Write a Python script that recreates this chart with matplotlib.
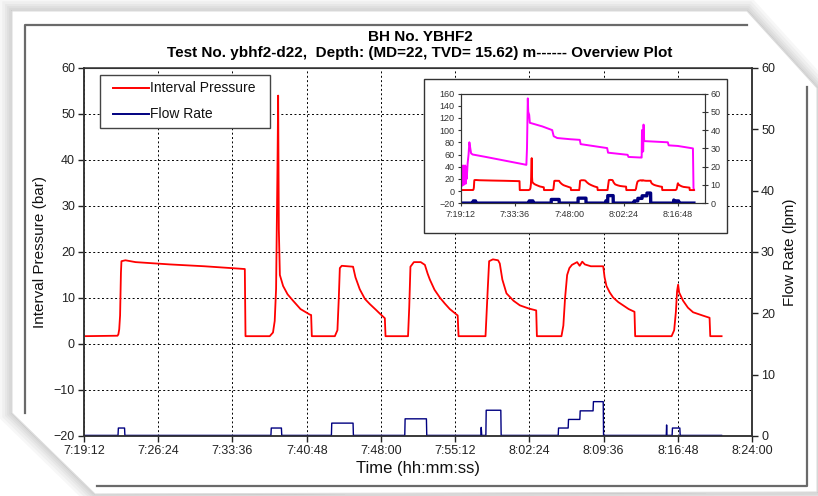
import matplotlib
matplotlib.use("Agg")
import matplotlib.pyplot as plt
import matplotlib.patheffects as pe
from matplotlib.patches import Polygon, Rectangle
from matplotlib.lines import Line2D
from matplotlib.ticker import FuncFormatter, MultipleLocator

plt.rcParams["font.family"] = ["Liberation Sans", "DejaVu Sans"]

START = 7 * 3600 + 19 * 60 + 12   # 7:19:12, all times below are seconds after this

# ── Interval pressure (bar) ──────────────────────────────────────────────────
p_time = [0, 195, 200, 205, 210, 215, 218, 241, 300, 500, 700, 936, 940,
          1081, 1100, 1110, 1118, 1122, 1126, 1130, 1134, 1140, 1159, 1185, 1217, 1260, 1314, 1322, 1326,
          1460, 1475, 1483, 1489, 1500, 1566, 1580, 1605, 1635, 1663, 1700, 1722, 1751, 1755,
          1886, 1893, 1900, 1920, 1960, 1984, 2000, 2013, 2040, 2071, 2100, 2129, 2175, 2180,
          2337, 2350, 2358, 2380, 2410, 2420, 2435, 2459, 2500, 2537, 2590, 2632, 2636,
          2779, 2790, 2800, 2812, 2825, 2840, 2870, 2885, 2900, 2915, 2950, 3022, 3030, 3041, 3060,
          3080, 3110, 3138, 3170, 3204, 3208,
          3420, 3435, 3445, 3452, 3458, 3464, 3487, 3515, 3545, 3600, 3641, 3645, 3711]
p_bar = [1.7, 1.8, 2.1, 3.2, 6.2, 15.5, 18.0, 18.2, 17.8, 17.3, 16.9, 16.3, 1.7,
         1.7, 2.5, 5.0, 12.0, 25.0, 38.0, 54.0, 25.0, 15.0, 12.6, 10.8, 9.4, 7.6, 6.4, 6.3, 1.7,
         1.7, 3.0, 10.0, 16.5, 17.0, 16.8, 14.5, 11.9, 9.8, 8.7, 7.4, 6.6, 5.6, 1.7,
         1.7, 8.0, 16.8, 17.8, 17.8, 17.2, 15.3, 14.0, 11.8, 10.1, 8.8, 7.6, 6.2, 1.7,
         1.7, 12.0, 18.0, 18.4, 18.2, 17.5, 14.0, 11.0, 9.4, 8.4, 7.7, 7.3, 1.7,
         1.7, 4.0, 10.0, 15.0, 16.5, 17.2, 17.8, 17.0, 17.9, 17.3, 16.9, 16.9, 14.5, 12.6, 11.2,
         10.1, 9.1, 8.4, 7.6, 7.0, 1.7,
         1.7, 3.0, 7.0, 11.5, 12.9, 11.2, 9.4, 7.9, 6.9, 6.2, 5.7, 1.7, 1.7]

# ── Flow rate (lpm) ──────────────────────────────────────────────────────────
q_time = [0, 198, 200, 236, 238, 1088, 1090, 1149, 1151, 1440, 1442, 1566, 1568,
          1867, 1869, 1993, 1995, 2310, 2312, 2315, 2339, 2341, 2426, 2428,
          2760, 2762, 2818, 2820, 2886, 2888, 2963, 2965, 3022, 3024,
          3389, 3391, 3393, 3423, 3425, 3468, 3470, 3711]
q_lpm = [0.1, 0.1, 1.3, 1.3, 0.1, 0.1, 1.3, 1.3, 0.1, 0.1, 2.1, 2.1, 0.1,
         0.1, 2.8, 2.8, 0.1, 0.1, 1.4, 0.1, 0.1, 4.2, 4.2, 0.1,
         0.1, 1.3, 1.3, 2.7, 2.7, 4.1, 4.1, 5.6, 5.6, 0.1,
         0.1, 1.8, 0.1, 0.1, 1.3, 1.3, 0.1, 0.1]

# ── Packer pressure trace shown only in the inset (bar) ──────────────────────
m_time = [0, 8, 15, 22, 30, 38, 46, 54, 62, 70, 78, 86, 96, 110, 125, 138, 150, 165, 190,
          400, 700, 1000, 1045, 1055, 1062, 1068, 1075, 1090, 1100, 1300, 1456, 1480, 1536,
          1749, 1895, 1909, 2331, 2345, 2656, 2670, 2869, 2880, 2885, 2892, 2896, 2905,
          2910, 2920, 3296, 3310, 3456, 3696, 3705, 3715]
m_bar = [10, 35, 8, 40, 12, 42, 10, 38, 14, 42, 12, 40, 20, 45, 60, 80, 72, 62, 60,
         56, 50, 44, 43, 70, 115, 152, 130, 125, 112, 106, 100, 90, 87,
         85, 84, 77, 70.5, 63, 59.5, 56, 55, 55, 100, 100, 65, 65,
         109, 82, 80, 75, 74, 70, 5, 2]

X_END = 3888      # 8:24:00
X_STEP = 432      # 7:12

W, H = 818, 496


def fx(x):
    return x / W


def fy(y):
    return 1 - y / H


def clock(v, pos=None):
    s = int(round(START + v))
    return f"{s // 3600}:{s % 3600 // 60:02d}:{s % 60:02d}"


fig = plt.figure(figsize=(W / 100, H / 100), dpi=100, facecolor="white")

# ── Page with cut corners + soft shadow ──────────────────────────────────────
page = [(12, 11), (747, 11), (817, 88), (817, 492), (95, 494), (12, 413)]
glow = [pe.withStroke(linewidth=lw, foreground="#000000", alpha=0.03) for lw in (18, 14, 10, 7, 4)]
fig.add_artist(Polygon([(fx(x), fy(y)) for x, y in page], closed=True, transform=fig.transFigure,
                       facecolor="white", edgecolor="#d4d4d4", lw=1, zorder=-5, path_effects=glow))
fig.add_artist(Polygon([(fx(x), fy(y)) for x, y in page], closed=True, transform=fig.transFigure,
                       facecolor="white", edgecolor="#dddddd", lw=0.8, zorder=-4))
for seg in ([(25, 413), (25, 25), (747, 25)], [(807, 87), (807, 486), (97, 486)]):
    fig.add_artist(Line2D([fx(x) for x, _ in seg], [fy(y) for _, y in seg], transform=fig.transFigure,
                          color="#6a6a6a", lw=1.6, zorder=-3))

# ── Main plot ────────────────────────────────────────────────────────────────
ax = fig.add_axes([fx(84), fy(436), (752 - 84) / W, (436 - 68) / H])
ax.plot(p_time, p_bar, color="#ff0000", lw=1.3)
ax.set_xlim(0, X_END)
ax.set_ylim(-20, 60)
ax.xaxis.set_major_locator(MultipleLocator(X_STEP))
ax.xaxis.set_major_formatter(FuncFormatter(clock))
ax.yaxis.set_major_locator(MultipleLocator(10))
ax.grid(True, color="black", linestyle=(0, (2, 2.5)), lw=0.7)
ax.tick_params(direction="out", length=4, width=1, pad=2.5, labelsize=9, colors="#222222")
for s in ax.spines.values():
    s.set_color("#333333")
    s.set_linewidth(1.1)
ax.spines["top"].set_linewidth(0.8)

ax2 = ax.twinx()
ax2.plot(q_time, q_lpm, color="#000080", lw=1.0)
ax2.set_ylim(0, 60)
ax2.yaxis.set_major_locator(MultipleLocator(10))
ax2.tick_params(direction="out", length=4, width=1, pad=2.5, labelsize=9, colors="#222222")
for s in ax2.spines.values():
    s.set_color("#333333")
    s.set_linewidth(1.1)

ax.set_ylabel("Interval Pressure (bar)", fontsize=11, color="#111111")
ax.yaxis.set_label_coords((47 - 84) / 668, 0.5)
ax2.set_ylabel("Flow Rate (lpm)", fontsize=11, color="#111111")
ax2.yaxis.set_label_coords((783 - 84) / 668, 0.5)
ax.set_xlabel("Time (hh:mm:ss)", fontsize=12, color="#111111")
ax.xaxis.set_label_coords(0.5, -(461 - 436) / 368)

fig.text(fx(420), fy(37), "BH No. YBHF2", ha="center", va="center", fontsize=11, fontweight="bold")
fig.text(fx(420), fy(53), "Test No. ybhf2-d22,  Depth: (MD=22, TVD= 15.62) m------ Overview Plot",
         ha="center", va="center", fontsize=11, fontweight="bold")

# ── Legend (drawn by hand to match the box) ──────────────────────────────────
fig.add_artist(Rectangle((fx(99.5), fy(127.5)), (269.5 - 99.5) / W, (127.5 - 75) / H,
                         transform=fig.transFigure, facecolor="white", edgecolor="#444444", lw=1.0, zorder=1))
for label, color, yy in (("Interval Pressure", "#ff0000", 88.3), ("Flow Rate", "#000080", 114)):
    fig.add_artist(Line2D([fx(113), fx(149)], [fy(yy), fy(yy)], transform=fig.transFigure,
                          color=color, lw=1.4, zorder=2))
    fig.text(fx(150.5), fy(yy), label, ha="left", va="center", fontsize=10, color="#111111", zorder=3)

# ── Inset overview ───────────────────────────────────────────────────────────
fig.add_artist(Rectangle((fx(424), fy(233.3)), (727 - 424) / W, (233.3 - 79) / H,
                         transform=fig.transFigure, facecolor="white", edgecolor="#333333", lw=1.0, zorder=1))
ins = fig.add_axes([fx(460.7), fy(203.3), (705 - 460.7) / W, (203.3 - 93.5) / H])
ins.set_zorder(2)
ins.plot(m_time, m_bar, color="#ff00ff", lw=1.4)
ins.plot(p_time, p_bar, color="#ff0000", lw=1.4)
ins.set_xlim(0, X_END)
ins.set_ylim(-20, 160)
ins.xaxis.set_major_locator(MultipleLocator(2 * X_STEP))
ins.xaxis.set_major_formatter(FuncFormatter(clock))
ins.yaxis.set_major_locator(MultipleLocator(20))
ins.tick_params(direction="out", length=2.5, width=0.8, pad=2, labelsize=6.5, colors="#333333")
ins2 = ins.twinx()
ins2.set_zorder(2.1)
ins2.plot(q_time, q_lpm, color="#000080", lw=2.4)
ins2.set_ylim(0, 60)
ins2.yaxis.set_major_locator(MultipleLocator(10))
ins2.tick_params(direction="inout", length=4, width=0.8, pad=2, labelsize=6.5, colors="#333333")
for a in (ins, ins2):
    for s in a.spines.values():
        s.set_color("#333333")
        s.set_linewidth(0.8)

fig.savefig("out.png", dpi=100, facecolor=fig.get_facecolor())
